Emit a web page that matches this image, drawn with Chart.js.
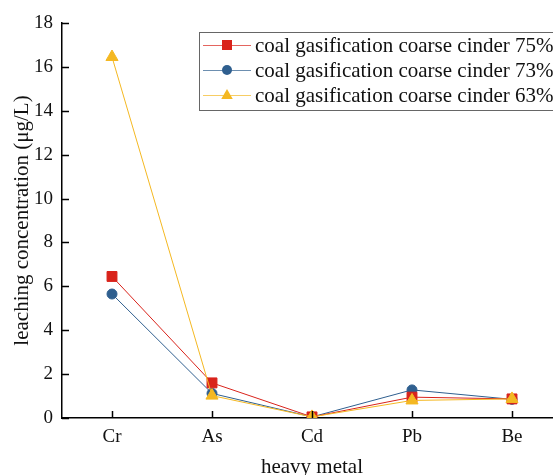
<!DOCTYPE html>
<html>
<head>
<meta charset="utf-8">
<script src="https://cdn.jsdelivr.net/npm/chart.js@4.4.0/dist/chart.umd.min.js"></script>
<style>
  html, body { margin: 0; padding: 0; background: #fff; overflow: hidden; }
  #wrap { width: 562px; height: 480px; }
</style>
</head>
<body>
<div id="wrap"><canvas id="myChart" width="562" height="480"></canvas></div>
<script>
// datos
const categories = ['Cr', 'As', 'Cd', 'Pb', 'Be'];
const seriesLabels = [
    'coal gasification coarse cinder 75%',
    'coal gasification coarse cinder 73%',
    'coal gasification coarse cinder 63%'
];
const cinder75 = [6.45, 1.6, 0.05, 0.95, 0.87];
const cinder73 = [5.65, 1.12, 0.05, 1.28, 0.85];
const cinder63 = [16.45, 1.02, 0.05, 0.8, 0.87];
const yMin = 0, yMax = 18, yStep = 2;

const RED = '#d9231b', BLUE = '#2f5f8f', YELLOW = '#f4b822';
const FONT = "'Liberation Serif', 'Times New Roman', serif";

// ticks hacia adentro, como en el original
const innerTicks = {
    id: 'innerTicks',
    afterDraw(chart) {
        const c = chart.ctx, a = chart.chartArea;
        const x = chart.scales.x, y = chart.scales.y;
        c.save();
        c.strokeStyle = '#000';
        c.lineWidth = 1.5;
        c.beginPath();
        y.ticks.forEach((t, i) => {
            const py = Math.round(y.getPixelForTick(i)) + 0.5;
            c.moveTo(a.left, py);
            c.lineTo(a.left + 7, py);
        });
        x.ticks.forEach((t, i) => {
            const px = Math.round(x.getPixelForTick(i)) + 0.5;
            c.moveTo(px, a.bottom);
            c.lineTo(px, a.bottom - 7);
        });
        c.stroke();
        c.restore();
    }
};

function drawMarker(c, style, x, y, r, color) {
    c.fillStyle = color;
    c.beginPath();
    if (style === 'rect') {
        c.rect(x - r, y - r, 2 * r, 2 * r);
    } else if (style === 'circle') {
        c.arc(x, y, r, 0, Math.PI * 2);
    } else {
        c.moveTo(x, y - r * 1.2);
        c.lineTo(x + r * 1.15, y + r * 0.8);
        c.lineTo(x - r * 1.15, y + r * 0.8);
        c.closePath();
    }
    c.fill();
}

// leyenda dentro del área del gráfico
const boxLegend = {
    id: 'boxLegend',
    afterDraw(chart) {
        const c = chart.ctx;
        const left = 199, top = 32, rowH = 25;
        c.save();
        c.fillStyle = '#fff';
        c.fillRect(left, top, 380, 78);
        c.strokeStyle = '#666';
        c.lineWidth = 1;
        c.strokeRect(left + 0.5, top + 0.5, 380, 78);
        c.font = '21px ' + FONT;
        c.textBaseline = 'middle';
        chart.data.datasets.forEach((ds, row) => {
            const cy = top + 13 + row * rowH;
            c.strokeStyle = ds.borderColor;
            c.globalAlpha = 0.7;
            c.lineWidth = 1;
            c.beginPath();
            c.moveTo(left + 4, cy + 0.5);
            c.lineTo(left + 52, cy + 0.5);
            c.stroke();
            c.globalAlpha = 1;
            drawMarker(c, ds.pointStyle, left + 28, cy, 5, ds.backgroundColor);
            c.fillStyle = '#111';
            c.fillText(ds.label, left + 56, cy + 1);
        });
        c.restore();
    }
};

const ctx = document.getElementById('myChart').getContext('2d');
const myChart = new Chart(ctx, {
    type: 'line',
    data: {
        labels: categories,
        datasets: [
            { label: seriesLabels[0], data: cinder75, borderColor: RED, backgroundColor: RED,
              pointStyle: 'rect', pointRadius: 7, borderWidth: 1, order: 1 },
            { label: seriesLabels[1], data: cinder73, borderColor: BLUE, backgroundColor: BLUE,
              pointStyle: 'circle', pointRadius: 5, borderWidth: 1, order: 2 },
            { label: seriesLabels[2], data: cinder63, borderColor: YELLOW, backgroundColor: YELLOW,
              pointStyle: 'triangle', pointRadius: 7, borderWidth: 1, order: 0 }
        ]
    },
    options: {
        responsive: false,
        animation: false,
        layout: { autoPadding: false, padding: { left: 0, top: 23, right: 0, bottom: 0 } },
        elements: { point: { borderWidth: 0 }, line: { tension: 0 } },
        plugins: {
            legend: { display: false },
            tooltip: { enabled: false }
        },
        scales: {
            x: {
                offset: true,
                afterFit(scale) { scale.height = 62; },
                grid: { drawOnChartArea: false, drawTicks: false },
                border: { color: '#000', width: 1.5 },
                ticks: { color: '#111', font: { family: FONT, size: 19 }, padding: 8 },
                title: { display: true, text: 'heavy metal', color: '#111',
                         font: { family: FONT, size: 21 }, padding: { top: 8, bottom: 0 } }
            },
            y: {
                min: yMin, max: yMax,
                afterFit(scale) { scale.width = 62; },
                grid: { drawOnChartArea: false, drawTicks: false },
                border: { color: '#000', width: 1.5 },
                ticks: { stepSize: yStep, color: '#111', font: { family: FONT, size: 19 }, padding: 9 },
                title: { display: true, text: 'leaching concentration (μg/L)', color: '#111',
                         font: { family: FONT, size: 21 }, padding: { top: 10, bottom: 0 } }
            }
        }
    },
    plugins: [innerTicks, boxLegend]
});
</script>
</body>
</html>
